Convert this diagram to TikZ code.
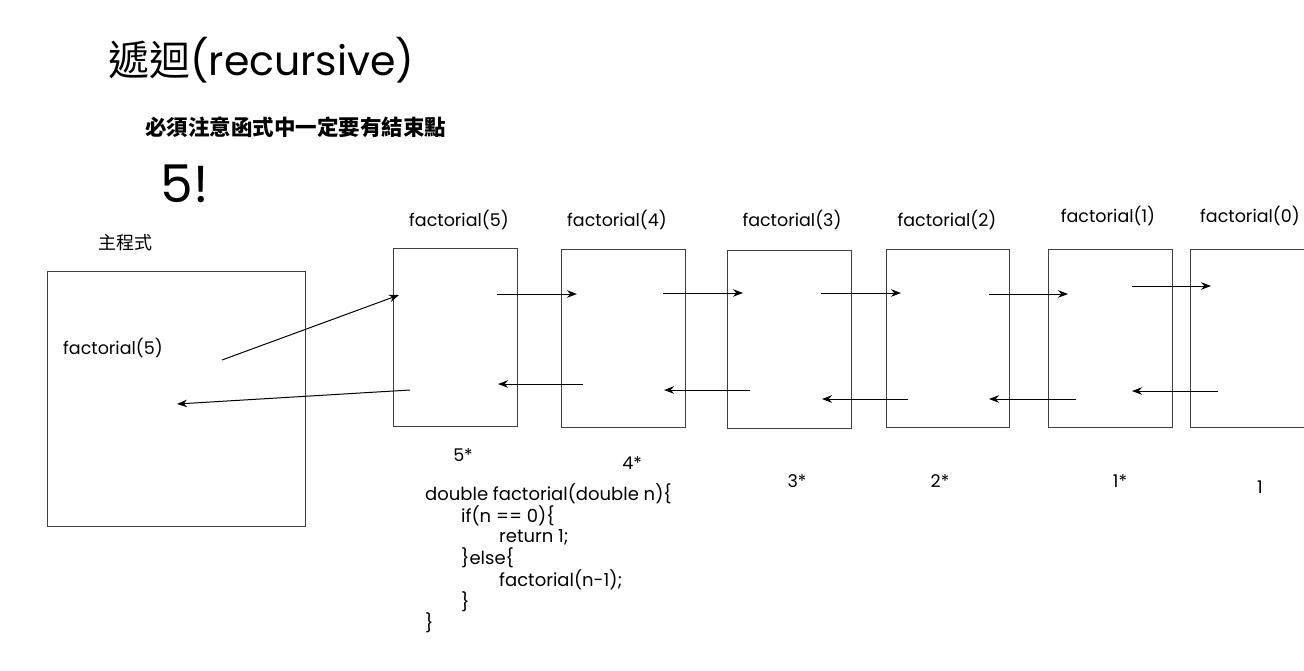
\documentclass[tikz,border=0pt]{standalone}
\usepackage{fontspec}
\setmainfont{Poppins}
\newfontfamily\cjk{Noto Sans CJK TC}
\usetikzlibrary{arrows.meta}
\begin{document}
\begin{tikzpicture}[x=1pt,y=-1pt,
  lbl/.style={inner sep=0pt, font=\fontsize{17.5}{20}\selectfont},
  codeln/.style={inner sep=0pt, anchor=west, font=\fontsize{18}{20}\selectfont},
  frame/.style={draw=black!75, line width=1pt, inner sep=0pt, minimum width=124pt, minimum height=178pt},
  arr/.style={-{Stealth[length=10pt,width=7.5pt]}, line width=1pt, black}]
\useasboundingbox (0,0) rectangle (1304,670);
\fill[white] (0,0) rectangle (1304,670);

% titles
\node[inner sep=0pt, anchor=west, font=\fontsize{41}{44}\selectfont] (title) at (108,60) {{\cjk 遞迴}(recursive)};
\node[inner sep=0pt, anchor=west, font=\cjk\bfseries\fontsize{21.5}{24}\selectfont] (sub) at (145,127) {必須注意函式中一定要有結束點};
\node[inner sep=0pt, font=\fontsize{52}{56}\selectfont] (fact) at (185,184) {5!};
\node[inner sep=0pt, font=\cjk\fontsize{18}{20}\selectfont] (mainlbl) at (125,243) {主程式};

% main box
\node[frame, minimum width=258pt, minimum height=255pt] (main) at (176,398.5) {};
\node[lbl] (mcall) at (113,348) {factorial(5)};

% call boxes
\node[frame] (b5) at (455,337.5) {};
\node[frame] (b4) at (623,338) {};
\node[frame] (b3) at (789,339) {};
\node[frame, minimum width=123pt] (b2) at (947.5,338) {};
\node[frame] (b1) at (1110,338) {};
\node[frame] (b0) at (1252,338) {};

% labels above
\node[lbl] (l5) at (459,220) {factorial(5)};
\node[lbl] (l4) at (617,220) {factorial(4)};
\node[lbl] (l3) at (792,220) {factorial(3)};
\node[lbl] (l2) at (947,220) {factorial(2)};
\node[lbl] (l1) at (1108,216) {factorial(1)};
\node[lbl] (l0) at (1250,216) {factorial(0)};

% labels below
\node[lbl] (r5) at (463,455) {5*};
\node[lbl] (r4) at (632,463) {4*};
\node[lbl] (r3) at (797,481) {3*};
\node[lbl] (r2) at (940,481) {2*};
\node[lbl] (r1) at (1120,481) {1*};
\node[lbl] (r0) at (1260,487) {1};

% code
\node[codeln] (c1) at (425,494) {double factorial(double n)\{};
\node[codeln] (c2) at (461,516) {if(n == 0)\{};
\node[codeln] (c3) at (499,537) {return 1;};
\node[codeln] (c4) at (461,558) {\}else\{};
\node[codeln] (c5) at (499,580) {factorial(n-1);};
\node[codeln] (c6) at (461,602) {\}};
\node[codeln] (c7) at (425,623) {\}};

% arrow end points
\coordinate (m1) at (222,360);
\coordinate (m2) at (399,295);
\coordinate (m3) at (410,390);
\coordinate (m4) at (177,404);
\coordinate (f5a) at (497,294);  \coordinate (f5b) at (577,294);
\coordinate (f4a) at (663,293);  \coordinate (f4b) at (743,293);
\coordinate (f3a) at (821,293);  \coordinate (f3b) at (901,293);
\coordinate (f2a) at (989,294);  \coordinate (f2b) at (1068,294);
\coordinate (f1a) at (1132,286); \coordinate (f1b) at (1211,286);
\coordinate (g4a) at (583,384);  \coordinate (g4b) at (498,384);
\coordinate (g3a) at (750,390);  \coordinate (g3b) at (664,390);
\coordinate (g2a) at (908,399);  \coordinate (g2b) at (822,399);
\coordinate (g1a) at (1076,399); \coordinate (g1b) at (989,399);
\coordinate (g0a) at (1218,391); \coordinate (g0b) at (1132,391);

\draw[arr] (m1) -- (m2);
\draw[arr] (m3) -- (m4);
\draw[arr] (f5a) -- (f5b);
\draw[arr] (f4a) -- (f4b);
\draw[arr] (f3a) -- (f3b);
\draw[arr] (f2a) -- (f2b);
\draw[arr] (f1a) -- (f1b);
\draw[arr] (g4a) -- (g4b);
\draw[arr] (g3a) -- (g3b);
\draw[arr] (g2a) -- (g2b);
\draw[arr] (g1a) -- (g1b);
\draw[arr] (g0a) -- (g0b);
\end{tikzpicture}
\end{document}
